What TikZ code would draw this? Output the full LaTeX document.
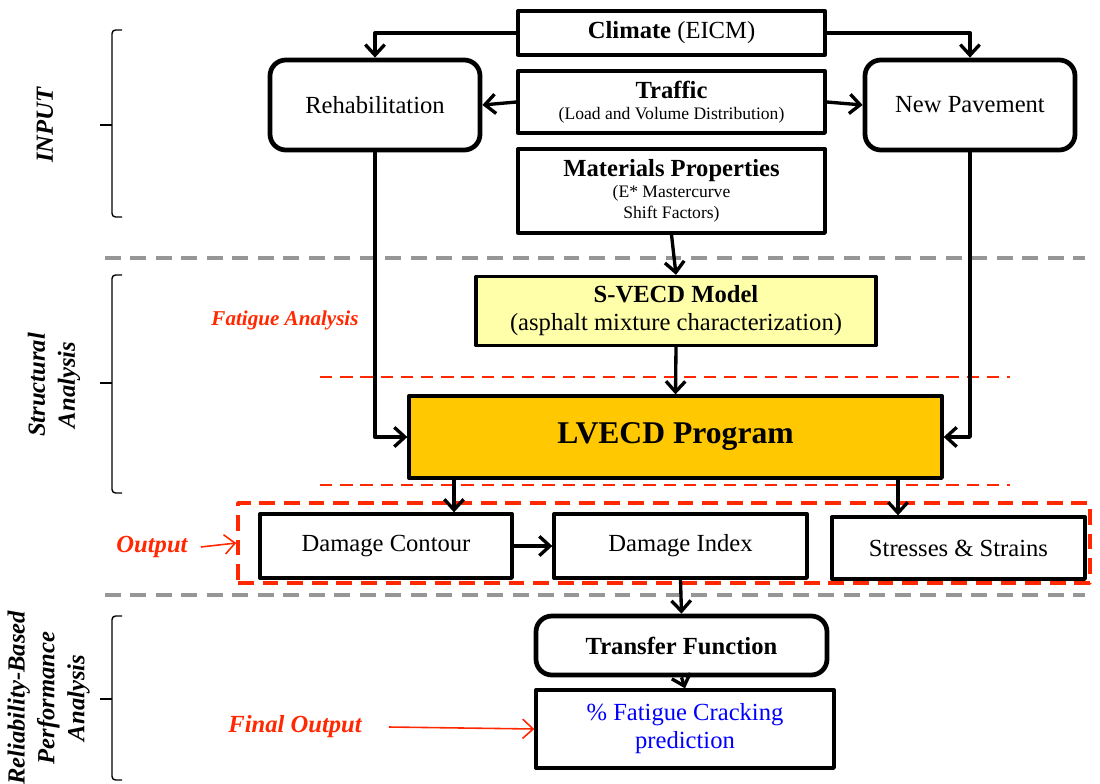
\documentclass[tikz,border=0pt]{standalone}
\usepackage{fontspec}
\setmainfont{Liberation Serif}
\usetikzlibrary{arrows.meta}
\definecolor{svyellow}{RGB}{255,255,170}
\definecolor{lvorange}{RGB}{255,200,0}
\definecolor{dashred}{RGB}{255,40,0}
\definecolor{dashgrey}{RGB}{150,150,150}
\newcommand{\smalltxt}[1]{{\fontsize{10}{11}\selectfont #1}}
\begin{document}
\begin{tikzpicture}[line join=round, >={Straight Barb[length=6pt,width=11pt]},
	font=\fontsize{14}{16}\selectfont,
	box/.style={draw, line width=1.9pt, align=center, inner sep=0pt},
	rbox/.style={draw, line width=2.7pt, rounded corners=9pt, align=center, inner sep=0pt},
	arr/.style={->, line width=1.9pt},
	redarr/.style={->, dashred, line width=0.9pt},
	side/.style={font=\fontsize{14}{17}\selectfont\bfseries\itshape, rotate=90, align=center},
	redlabel/.style={text=dashred, font=\fontsize{14}{16}\selectfont\bfseries\itshape}]
	\useasboundingbox (0,0) rectangle (22,15.66);
	% input
	\node[box, minimum width=6.14cm, minimum height=0.88cm] (climate) at (13.43,15.0) {\textbf{Climate} (EICM)};
	\node[box, minimum width=6.14cm, minimum height=1.24cm] (traffic) at (13.43,13.62)
		{\textbf{Traffic}\\[-4pt]\smalltxt{(Load and Volume Distribution)}};
	\node[box, minimum width=6.14cm, minimum height=1.68cm] (materials) at (13.43,11.84)
		{\textbf{Materials Properties}\\[-4pt]\smalltxt{(E* Mastercurve}\\[-4pt]\smalltxt{Shift Factors)}};
	\node[rbox, minimum width=4.2cm, minimum height=1.8cm] (rehab) at (7.5,13.56) {Rehabilitation};
	\node[rbox, minimum width=4.2cm, minimum height=1.8cm] (newpav) at (19.4,13.56) {New Pavement};
	% structural analysis
	\node[box, fill=svyellow, minimum width=8cm, minimum height=1.38cm] (svecd) at (13.52,9.44)
		{\textbf{S-VECD Model}\\(asphalt mixture characterization)};
	\node[box, fill=lvorange, minimum width=10.66cm, minimum height=1.64cm] (lvecd) at (13.51,6.92)
		{\fontsize{18}{20}\selectfont\textbf{LVECD Program}};
	% output
	\node[draw=dashred, dash pattern=on 9pt off 5pt, line width=2pt, minimum width=17.04cm, minimum height=1.6cm] (outbox) at (13.28,4.8) {};
	\node[box, minimum width=5.04cm, minimum height=1.28cm] (contour) at (7.72,4.74) {Damage Contour};
	\node[box, minimum width=5.06cm, minimum height=1.28cm] (index) at (13.61,4.74) {Damage Index};
	\node[box, minimum width=5.06cm, minimum height=1.24cm] (stress) at (19.17,4.7) {Stresses \& Strains};
	% performance
	\node[rbox, minimum width=5.82cm, minimum height=1.18cm] (transfer) at (13.63,2.75) {\textbf{Transfer Function}};
	\node[box, minimum width=5.96cm, minimum height=1.56cm, text=blue] (fatigue) at (13.7,1.08)
		{\% Fatigue Cracking\\prediction};
	% section lines
	\draw[dashgrey, line width=2.2pt, dash pattern=on 9pt off 5.5pt] (2.1,10.5) -- (21.7,10.5);
	\draw[dashgrey, line width=2.2pt, dash pattern=on 9pt off 5.5pt] (2.1,3.76) -- (21.7,3.76);
	\draw[dashred, line width=1.4pt, dash pattern=on 7pt off 4.5pt] (6.4,8.12) -- (20.2,8.12);
	\draw[dashred, line width=1.4pt, dash pattern=on 7pt off 4.5pt] (6.4,5.96) -- (20.2,5.96);
	% side labels and brackets
	\node[side] (inlab) at (0.9,13.16) {INPUT};
	\node[side] (stlab) at (1.08,7.96) {Structural\\Analysis};
	\node[side] (rblab) at (0.97,1.7) {Reliability-Based\\Performance\\Analysis};
	\draw[line width=0.8pt, rounded corners=2pt]
		(2.44,15.06) -- (2.24,15.06) -- (2.24,11.32) -- (2.44,11.32)
		(2.44,10.16) -- (2.24,10.16) -- (2.24,5.8) -- (2.44,5.8)
		(2.44,3.34) -- (2.24,3.34) -- (2.24,0.06) -- (2.44,0.06);
	\draw[line width=0.8pt]
		(2.24,13.16) -- (2.0,13.16)
		(2.24,8.0) -- (2.0,8.0)
		(2.24,1.68) -- (2.0,1.68);
	\node[redlabel, font=\fontsize{12}{14}\selectfont\bfseries\itshape] (fatlab) at (5.7,9.26) {Fatigue Analysis};
	\node[redlabel] (outlab) at (3.04,4.72) {Output};
	\node[redlabel] (finlab) at (5.9,1.12) {Final Output};
	% connectors
	\coordinate (c1) at (9.08,0);
	\coordinate (c2) at (17.96,0);
	\draw[arr] (climate.west) -| (rehab.north);
	\draw[arr] (climate.east) -| (newpav.north);
	\draw[arr] (traffic.west) -- (rehab.east);
	\draw[arr] (traffic.east) -- (newpav.west);
	\draw[arr] (materials.south) -- (svecd.north);
	\draw[arr] (svecd.south) -- (lvecd.north);
	\draw[arr] (rehab.south) |- (lvecd.west);
	\draw[arr] (newpav.south) |- (lvecd.east);
	\draw[arr] (lvecd.south -| c1) -- (contour.north -| c1);
	\draw[arr] (lvecd.south -| c2) -- (stress.north -| c2);
	\draw[arr] (contour.east) -- (index.west);
	\draw[arr] (index.south) -- (transfer.north);
	\draw[arr] (transfer.south) -- (fatigue.north);
	\draw[redarr] ([xshift=4pt]outlab.east) -- (outbox.west);
	\draw[redarr] ([xshift=12pt]finlab.east) -- (fatigue.west);
\end{tikzpicture}
\end{document}
